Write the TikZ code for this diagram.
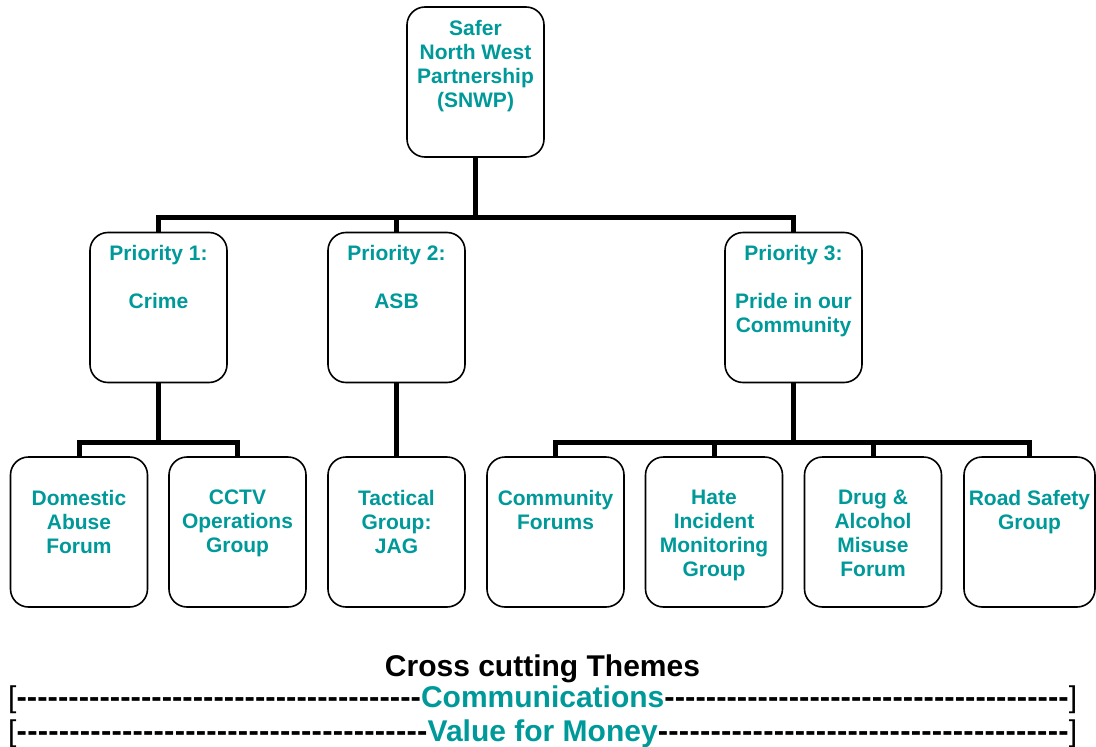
\documentclass[tikz,border=0pt]{standalone}
\usepackage{fontspec}
\setmainfont{Liberation Sans}
\definecolor{snwpteal}{RGB}{0,153,153}
\newcommand{\dashfill}{\xleaders\hbox{\fontsize{31pt}{31pt}\selectfont\bfseries -}\hfill}
\newcommand{\lbr}{{\fontsize{30pt}{30pt}\selectfont [}}
\newcommand{\rbr}{{\fontsize{30pt}{30pt}\selectfont ]}}
\begin{document}
\begin{tikzpicture}[x=1pt,y=-1pt,
  box/.style={draw=black, line width=1.6pt, rounded corners=18pt, minimum width=137pt, minimum height=150pt, inner sep=0pt},
  lbl/.style={anchor=north, inner sep=0pt, align=center, text=snwpteal, font=\fontsize{21pt}{24pt}\selectfont\bfseries},
  conn/.style={line width=5pt, line join=miter}]
\useasboundingbox (0,0) rectangle (1096,747);
% boxes
\node[box] (top) at (475.5,82) {};
\node[box] (p1) at (158.5,307.5) {};
\node[box] (p2) at (396.5,307.5) {};
\node[box] (p3) at (793.5,307.5) {};
\node[box] (dom) at (79,532) {};
\node[box] (cctv) at (237.5,532) {};
\node[box] (tac) at (396.5,532) {};
\node[box] (comm) at (555.5,532) {};
\node[box] (hate) at (714,532) {};
\node[box] (drug) at (873,532) {};
\node[box, minimum width=131pt] (road) at (1029.5,532) {};
% labels
\node[lbl] (topt) at (475.5,20) {Safer\\North West\\Partnership\\(SNWP)};
\node[lbl] (p1t) at (158.5,245) {Priority 1:\\[24pt]Crime};
\node[lbl] (p2t) at (396.5,245) {Priority 2:\\[24pt]ASB};
\node[lbl] (p3t) at (793.5,245) {Priority 3:\\[24pt]Pride in our\\Community};
\node[lbl] (domt) at (79,490) {Domestic\\Abuse\\Forum};
\node[lbl] (cctvt) at (237.5,490) {CCTV\\Operations\\Group};
\node[lbl] (tact) at (396.5,490) {Tactical\\Group:\\JAG};
\node[lbl] (commt) at (555.5,490) {Community\\Forums};
\node[lbl] (hatet) at (714,490) {Hate\\Incident\\Monitoring\\Group};
\node[lbl] (drugt) at (873,490) {Drug \&\\Alcohol\\Misuse\\Forum};
\node[lbl] (roadt) at (1029.5,490) {Road Safety\\Group};
% connectors
\coordinate (bus1) at (475.5,217);
\coordinate (bus2) at (158.5,442);
\coordinate (bus3) at (793.5,442);
\draw[conn] (top.south) -- (bus1);
\draw[conn] (p1.north) |- (bus1) -| (p3.north);
\draw[conn] (p2.north) -- (p2.north |- bus1);
\draw[conn] (p1.south) -- (bus2);
\draw[conn] (dom.north) |- (bus2) -| (cctv.north);
\draw[conn] (p2.south) -- (tac.north);
\draw[conn] (p3.south) -- (bus3);
\draw[conn] (comm.north) |- (bus3) -| (road.north);
\draw[conn] (hate.north) -- (hate.north |- bus3);
\draw[conn] (drug.north) -- (drug.north |- bus3);
% cross cutting themes
\node[anchor=base, inner sep=0pt, font=\fontsize{30pt}{30pt}\selectfont\bfseries] (cct) at (542.5,676) {Cross cutting Themes};
\node[anchor=base west, inner sep=0pt] (comms) at (8,707) {\hbox to 1069pt{\lbr\dashfill{\fontsize{30pt}{30pt}\selectfont\bfseries\color{snwpteal}Communications}\dashfill\rbr}};
\node[anchor=base west, inner sep=0pt] (vfm) at (8,741) {\hbox to 1069pt{\lbr\dashfill{\fontsize{30pt}{30pt}\selectfont\bfseries\color{snwpteal}Value for Money}\dashfill\rbr}};
\end{tikzpicture}
\end{document}
